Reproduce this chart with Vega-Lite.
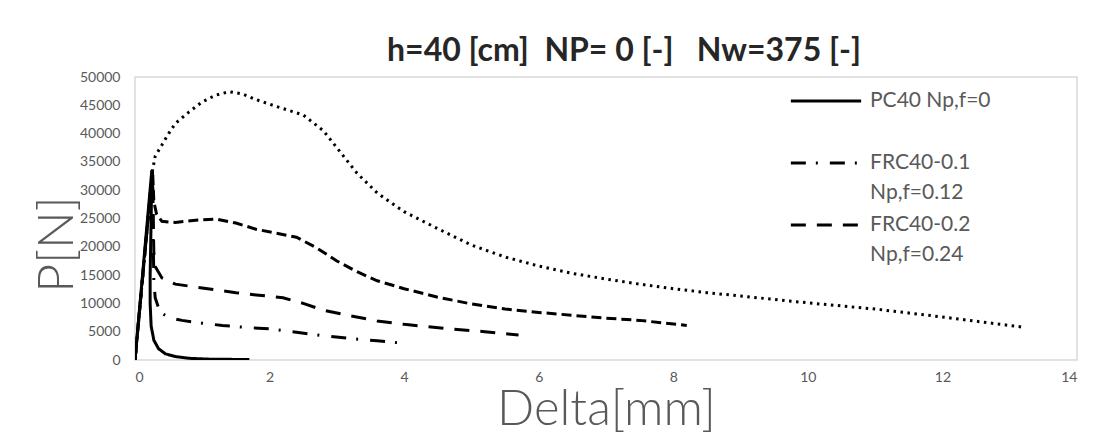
{
  "$schema": "https://vega.github.io/schema/vega-lite/v6.json",
  "width": 942,
  "height": 283,
  "autosize": {"type": "none"},
  "padding": {"left": 135, "top": 77, "right": 19, "bottom": 85},
  "background": "white",
  "config": {"view": {"stroke": "#d9d9d9", "strokeWidth": 1.5}, "font": "Lato"},
  "title": {"text": "h=40 [cm]\u00a0\u00a0NP= 0 [-]\u00a0\u00a0\u00a0Nw=375 [-]", "fontSize": 32, "fontWeight": "bold", "color": "#262626", "anchor": "middle", "offset": 2, "dx": 18, "font": "Lato"},
  "data": {"values": [
    {"s": "PC40 Np,f=0", "i": 0, "d": 0, "p": 0},
    {"s": "PC40 Np,f=0", "i": 1, "d": 0.25, "p": 33500},
    {"s": "PC40 Np,f=0", "i": 2, "d": 0.24, "p": 25000},
    {"s": "PC40 Np,f=0", "i": 3, "d": 0.225, "p": 15000},
    {"s": "PC40 Np,f=0", "i": 4, "d": 0.225, "p": 10000},
    {"s": "PC40 Np,f=0", "i": 5, "d": 0.24, "p": 6000},
    {"s": "PC40 Np,f=0", "i": 6, "d": 0.28, "p": 3500},
    {"s": "PC40 Np,f=0", "i": 7, "d": 0.35, "p": 2000},
    {"s": "PC40 Np,f=0", "i": 8, "d": 0.45, "p": 1100},
    {"s": "PC40 Np,f=0", "i": 9, "d": 0.6, "p": 600},
    {"s": "PC40 Np,f=0", "i": 10, "d": 0.8, "p": 300},
    {"s": "PC40 Np,f=0", "i": 11, "d": 1.1, "p": 150},
    {"s": "PC40 Np,f=0", "i": 12, "d": 1.7, "p": 80},

    {"s": "FRC40-0.1 Np,f=0.12", "i": 0, "d": 0, "p": 0},
    {"s": "FRC40-0.1 Np,f=0.12", "i": 1, "d": 0.26, "p": 33500},
    {"s": "FRC40-0.1 Np,f=0.12", "i": 2, "d": 0.27, "p": 22000},
    {"s": "FRC40-0.1 Np,f=0.12", "i": 3, "d": 0.28, "p": 14000},
    {"s": "FRC40-0.1 Np,f=0.12", "i": 4, "d": 0.3, "p": 11000},
    {"s": "FRC40-0.1 Np,f=0.12", "i": 5, "d": 0.37, "p": 8500},
    {"s": "FRC40-0.1 Np,f=0.12", "i": 6, "d": 0.5, "p": 7500},
    {"s": "FRC40-0.1 Np,f=0.12", "i": 7, "d": 0.7, "p": 7000},
    {"s": "FRC40-0.1 Np,f=0.12", "i": 8, "d": 1.0, "p": 6500},
    {"s": "FRC40-0.1 Np,f=0.12", "i": 9, "d": 1.3, "p": 6100},
    {"s": "FRC40-0.1 Np,f=0.12", "i": 10, "d": 1.6, "p": 5800},
    {"s": "FRC40-0.1 Np,f=0.12", "i": 11, "d": 2.0, "p": 5500},
    {"s": "FRC40-0.1 Np,f=0.12", "i": 12, "d": 2.4, "p": 4900},
    {"s": "FRC40-0.1 Np,f=0.12", "i": 13, "d": 2.8, "p": 4300},
    {"s": "FRC40-0.1 Np,f=0.12", "i": 14, "d": 3.2, "p": 3800},
    {"s": "FRC40-0.1 Np,f=0.12", "i": 15, "d": 3.6, "p": 3400},
    {"s": "FRC40-0.1 Np,f=0.12", "i": 16, "d": 4.0, "p": 2950},

    {"s": "FRC40-0.2 Np,f=0.24", "i": 0, "d": 0, "p": 0},
    {"s": "FRC40-0.2 Np,f=0.24", "i": 1, "d": 0.26, "p": 33500},
    {"s": "FRC40-0.2 Np,f=0.24", "i": 2, "d": 0.27, "p": 25000},
    {"s": "FRC40-0.2 Np,f=0.24", "i": 3, "d": 0.28, "p": 19000},
    {"s": "FRC40-0.2 Np,f=0.24", "i": 4, "d": 0.3, "p": 16500},
    {"s": "FRC40-0.2 Np,f=0.24", "i": 5, "d": 0.4, "p": 14500},
    {"s": "FRC40-0.2 Np,f=0.24", "i": 6, "d": 0.6, "p": 13400},
    {"s": "FRC40-0.2 Np,f=0.24", "i": 7, "d": 0.9, "p": 12900},
    {"s": "FRC40-0.2 Np,f=0.24", "i": 8, "d": 1.2, "p": 12400},
    {"s": "FRC40-0.2 Np,f=0.24", "i": 9, "d": 1.5, "p": 11900},
    {"s": "FRC40-0.2 Np,f=0.24", "i": 10, "d": 1.8, "p": 11500},
    {"s": "FRC40-0.2 Np,f=0.24", "i": 11, "d": 2.2, "p": 11000},
    {"s": "FRC40-0.2 Np,f=0.24", "i": 12, "d": 2.5, "p": 10000},
    {"s": "FRC40-0.2 Np,f=0.24", "i": 13, "d": 2.8, "p": 8800},
    {"s": "FRC40-0.2 Np,f=0.24", "i": 14, "d": 3.2, "p": 7800},
    {"s": "FRC40-0.2 Np,f=0.24", "i": 15, "d": 3.6, "p": 6900},
    {"s": "FRC40-0.2 Np,f=0.24", "i": 16, "d": 4.0, "p": 6300},
    {"s": "FRC40-0.2 Np,f=0.24", "i": 17, "d": 4.6, "p": 5600},
    {"s": "FRC40-0.2 Np,f=0.24", "i": 18, "d": 5.2, "p": 5000},
    {"s": "FRC40-0.2 Np,f=0.24", "i": 19, "d": 5.7, "p": 4400},

    {"s": "FRC40-0.3 Np,f=0.36", "i": 0, "d": 0, "p": 0},
    {"s": "FRC40-0.3 Np,f=0.36", "i": 1, "d": 0.26, "p": 33500},
    {"s": "FRC40-0.3 Np,f=0.36", "i": 2, "d": 0.28, "p": 28000},
    {"s": "FRC40-0.3 Np,f=0.36", "i": 3, "d": 0.32, "p": 25800},
    {"s": "FRC40-0.3 Np,f=0.36", "i": 4, "d": 0.4, "p": 24500},
    {"s": "FRC40-0.3 Np,f=0.36", "i": 5, "d": 0.6, "p": 24300},
    {"s": "FRC40-0.3 Np,f=0.36", "i": 6, "d": 0.9, "p": 24700},
    {"s": "FRC40-0.3 Np,f=0.36", "i": 7, "d": 1.2, "p": 24900},
    {"s": "FRC40-0.3 Np,f=0.36", "i": 8, "d": 1.5, "p": 24200},
    {"s": "FRC40-0.3 Np,f=0.36", "i": 9, "d": 1.8, "p": 23100},
    {"s": "FRC40-0.3 Np,f=0.36", "i": 10, "d": 2.1, "p": 22400},
    {"s": "FRC40-0.3 Np,f=0.36", "i": 11, "d": 2.4, "p": 21700},
    {"s": "FRC40-0.3 Np,f=0.36", "i": 12, "d": 2.7, "p": 19800},
    {"s": "FRC40-0.3 Np,f=0.36", "i": 13, "d": 3.0, "p": 17500},
    {"s": "FRC40-0.3 Np,f=0.36", "i": 14, "d": 3.3, "p": 15600},
    {"s": "FRC40-0.3 Np,f=0.36", "i": 15, "d": 3.6, "p": 14000},
    {"s": "FRC40-0.3 Np,f=0.36", "i": 16, "d": 4.0, "p": 12600},
    {"s": "FRC40-0.3 Np,f=0.36", "i": 17, "d": 4.5, "p": 11100},
    {"s": "FRC40-0.3 Np,f=0.36", "i": 18, "d": 5.0, "p": 9900},
    {"s": "FRC40-0.3 Np,f=0.36", "i": 19, "d": 5.5, "p": 9000},
    {"s": "FRC40-0.3 Np,f=0.36", "i": 20, "d": 6.0, "p": 8400},
    {"s": "FRC40-0.3 Np,f=0.36", "i": 21, "d": 6.5, "p": 7900},
    {"s": "FRC40-0.3 Np,f=0.36", "i": 22, "d": 7.0, "p": 7400},
    {"s": "FRC40-0.3 Np,f=0.36", "i": 23, "d": 7.5, "p": 7000},
    {"s": "FRC40-0.3 Np,f=0.36", "i": 24, "d": 8.2, "p": 6100},

    {"s": "FRC40-0.5 Np,f=0.6", "i": 0, "d": 0, "p": 0},
    {"s": "FRC40-0.5 Np,f=0.6", "i": 1, "d": 0.26, "p": 33500},
    {"s": "FRC40-0.5 Np,f=0.6", "i": 2, "d": 0.3, "p": 36000},
    {"s": "FRC40-0.5 Np,f=0.6", "i": 3, "d": 0.4, "p": 38000},
    {"s": "FRC40-0.5 Np,f=0.6", "i": 4, "d": 0.5, "p": 40000},
    {"s": "FRC40-0.5 Np,f=0.6", "i": 5, "d": 0.6, "p": 41800},
    {"s": "FRC40-0.5 Np,f=0.6", "i": 6, "d": 0.8, "p": 43800},
    {"s": "FRC40-0.5 Np,f=0.6", "i": 7, "d": 1.0, "p": 45600},
    {"s": "FRC40-0.5 Np,f=0.6", "i": 8, "d": 1.2, "p": 46800},
    {"s": "FRC40-0.5 Np,f=0.6", "i": 9, "d": 1.4, "p": 47400},
    {"s": "FRC40-0.5 Np,f=0.6", "i": 10, "d": 1.6, "p": 47000},
    {"s": "FRC40-0.5 Np,f=0.6", "i": 11, "d": 1.8, "p": 46000},
    {"s": "FRC40-0.5 Np,f=0.6", "i": 12, "d": 2.1, "p": 44800},
    {"s": "FRC40-0.5 Np,f=0.6", "i": 13, "d": 2.5, "p": 43300},
    {"s": "FRC40-0.5 Np,f=0.6", "i": 14, "d": 2.8, "p": 40500},
    {"s": "FRC40-0.5 Np,f=0.6", "i": 15, "d": 3.0, "p": 37500},
    {"s": "FRC40-0.5 Np,f=0.6", "i": 16, "d": 3.3, "p": 33000},
    {"s": "FRC40-0.5 Np,f=0.6", "i": 17, "d": 3.6, "p": 29500},
    {"s": "FRC40-0.5 Np,f=0.6", "i": 18, "d": 4.0, "p": 26200},
    {"s": "FRC40-0.5 Np,f=0.6", "i": 19, "d": 4.5, "p": 23200},
    {"s": "FRC40-0.5 Np,f=0.6", "i": 20, "d": 5.0, "p": 20300},
    {"s": "FRC40-0.5 Np,f=0.6", "i": 21, "d": 5.5, "p": 18200},
    {"s": "FRC40-0.5 Np,f=0.6", "i": 22, "d": 6.0, "p": 16600},
    {"s": "FRC40-0.5 Np,f=0.6", "i": 23, "d": 6.5, "p": 15300},
    {"s": "FRC40-0.5 Np,f=0.6", "i": 24, "d": 7.0, "p": 14300},
    {"s": "FRC40-0.5 Np,f=0.6", "i": 25, "d": 7.5, "p": 13400},
    {"s": "FRC40-0.5 Np,f=0.6", "i": 26, "d": 8.0, "p": 12600},
    {"s": "FRC40-0.5 Np,f=0.6", "i": 27, "d": 8.5, "p": 11900},
    {"s": "FRC40-0.5 Np,f=0.6", "i": 28, "d": 9.0, "p": 11300},
    {"s": "FRC40-0.5 Np,f=0.6", "i": 29, "d": 9.5, "p": 10700},
    {"s": "FRC40-0.5 Np,f=0.6", "i": 30, "d": 10.0, "p": 10100},
    {"s": "FRC40-0.5 Np,f=0.6", "i": 31, "d": 11.0, "p": 9000},
    {"s": "FRC40-0.5 Np,f=0.6", "i": 32, "d": 12.0, "p": 7600},
    {"s": "FRC40-0.5 Np,f=0.6", "i": 33, "d": 13.2, "p": 5800}
  ]},
  "mark": {"type": "line", "strokeWidth": 3, "color": "black", "interpolate": "linear", "clip": true},
  "encoding": {
    "x": {"field": "d", "type": "quantitative",
      "scale": {"domain": [0, 14], "nice": false},
      "axis": {"title": "Delta[mm]", "values": [0, 2, 4, 6, 8, 10, 12, 14], "grid": false, "domain": false, "ticks": false,
        "labelColor": "#595959", "labelFontSize": 14, "labelPadding": 10, "labelFont": "Lato",
        "titleFontSize": 49, "titleFontWeight": 300, "titleColor": "#595959", "titlePadding": 1, "titleFont": "Lato"}},
    "y": {"field": "p", "type": "quantitative",
      "scale": {"domain": [0, 50000], "nice": false},
      "axis": {"title": "P[N]", "values": [0, 5000, 10000, 15000, 20000, 25000, 30000, 35000, 40000, 45000, 50000], "format": "d",
        "grid": false, "domain": false, "ticks": false,
        "labelColor": "#595959", "labelFontSize": 14, "labelPadding": 15, "labelFont": "Lato",
        "titleFontSize": 50, "titleFontWeight": 300, "titleColor": "#595959", "titlePadding": -3, "titleY": 167, "titleFont": "Lato"}},
    "strokeDash": {"field": "s", "type": "nominal",
      "scale": {"domain": ["PC40 Np,f=0", "FRC40-0.1 Np,f=0.12", "FRC40-0.2 Np,f=0.24", "FRC40-0.3 Np,f=0.36", "FRC40-0.5 Np,f=0.6"],
        "range": [[1, 0], [15, 10, 2, 12], [15, 11], [10, 5], [2.5, 4.5]]},
      "legend": {"orient": "none", "legendX": 671, "legendY": 4, "title": null,
        "values": ["PC40 Np,f=0", "FRC40-0.1 Np,f=0.12", "FRC40-0.2 Np,f=0.24"],
        "symbolType": "M-1.9,0H1.9", "symbolSize": 1369, "symbolStrokeWidth": 3, "symbolStrokeColor": "black",
        "labelFontSize": 21, "labelColor": "#595959", "labelOffset": 24, "labelFont": "Lato", "labelLimit": 300,
        "labelExpr": "indexof(datum.label, 'FRC') == 0 ? split(datum.label, ' ') : [datum.label, ' ']",
        "rowPadding": 2,
        "encode": {"labels": {"update": {"lineHeight": {"value": 30}}}}}},
    "order": {"field": "i", "type": "quantitative"}
  }
}
